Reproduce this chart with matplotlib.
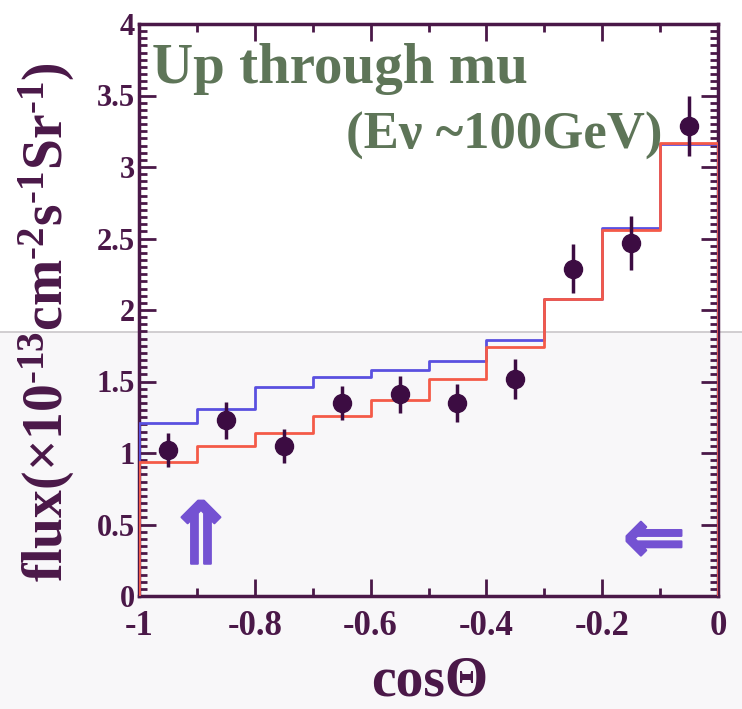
import numpy as np
import matplotlib
matplotlib.use("Agg")
import matplotlib.pyplot as plt
from matplotlib.ticker import MultipleLocator
from matplotlib.patches import Rectangle
from matplotlib.lines import Line2D
import matplotlib.patheffects as pe

# ---- data ----
bin_edges = [-1.0, -0.9, -0.8, -0.7, -0.6, -0.5, -0.4, -0.3, -0.2, -0.1, 0.0]
data_x = [-0.95, -0.85, -0.75, -0.65, -0.55, -0.45, -0.35, -0.25, -0.15, -0.05]
data_y = [1.02, 1.23, 1.05, 1.35, 1.41, 1.35, 1.52, 2.29, 2.47, 3.29]
data_err = [0.12, 0.13, 0.12, 0.12, 0.13, 0.13, 0.14, 0.17, 0.19, 0.21]
blue_mc = [1.21, 1.31, 1.46, 1.53, 1.58, 1.64, 1.79, 2.08, 2.57, 3.16]
red_mc = [0.94, 1.05, 1.14, 1.26, 1.37, 1.52, 1.74, 2.08, 2.56, 3.17]
x_ticks = [-1, -0.8, -0.6, -0.4, -0.2, 0]
x_ticklabels = ["-1", "-0.8", "-0.6", "-0.4", "-0.2", "0"]
y_ticks = [0, 0.5, 1, 1.5, 2, 2.5, 3, 3.5, 4]
y_ticklabels = ["0", "0.5", "1", "1.5", "2", "2.5", "3", "3.5", "4"]

plt.rcParams['font.family'] = ['Liberation Serif', 'DejaVu Serif']
plt.rcParams['mathtext.fontset'] = 'custom'
plt.rcParams['mathtext.rm'] = 'Liberation Serif:bold'
plt.rcParams['mathtext.bf'] = 'Liberation Serif:bold'
plt.rcParams['mathtext.it'] = 'Liberation Serif:bold'

frame_c = '#4a1848'
pt_c = '#3c0c42'
green_c = '#5e7558'
blue_c = '#5a50e0'
red_c = '#f45a48'
arrow_c = '#7452d2'

fig = plt.figure(figsize=(7.42, 7.09), dpi=100)
fig.patch.set_facecolor('white')
# scanned-paper tint on the lower half
fig.add_artist(Rectangle((0, 0), 1, 1 - 332/709, transform=fig.transFigure,
                         facecolor='#f8f7f9', edgecolor='none', zorder=-10))
fig.add_artist(Line2D([0, 1], [1 - 332/709]*2, transform=fig.transFigure,
                      color='#cac6ca', lw=1.2, zorder=-9))

ax = fig.add_axes([139/742, 1 - 596/709, (718 - 139)/742, (596 - 24)/709])
ax.set_facecolor('none')

def hist_path(edges, vals):
    xs = [edges[0]]
    ys = [0]
    for i, v in enumerate(vals):
        xs += [edges[i], edges[i+1]]
        ys += [v, v]
    xs.append(edges[-1])
    ys.append(0)
    return xs, ys

bx, by = hist_path(bin_edges, blue_mc)
rx, ry = hist_path(bin_edges, red_mc)
ax.plot(bx, by, color=blue_c, lw=2.0, zorder=3)
ax.plot(rx, ry, color=red_c, lw=2.0, zorder=4)

ax.errorbar(data_x, data_y, yerr=data_err, fmt='o', color=pt_c, ms=13,
            elinewidth=2.5, capsize=0, zorder=5)

ax.set_xlim(-1, 0)
ax.set_ylim(0, 4)
ax.set_xticks(x_ticks)
ax.set_xticklabels(x_ticklabels)
ax.set_yticks(y_ticks)
ax.set_yticklabels(y_ticklabels)
ax.xaxis.set_minor_locator(MultipleLocator(0.1))
ax.yaxis.set_minor_locator(MultipleLocator(0.05))
ax.tick_params(which='both', direction='in', top=True, right=True, color=frame_c,
               width=2, labelcolor=frame_c)
ax.tick_params(which='major', length=12)
ax.tick_params(which='minor', length=6)
ax.tick_params(axis='x', pad=10, labelsize=25)
ax.tick_params(axis='y', pad=3, labelsize=22)
for lab in ax.get_xticklabels() + ax.get_yticklabels():
    lab.set_fontweight('bold')
for s in ax.spines.values():
    s.set_color(frame_c)
    s.set_linewidth(2.5)

fig.text(430/742, 1 - 682/709, 'cosΘ', fontsize=40, fontweight='bold', color=frame_c,
         ha='center', va='center')
fig.text(47/742, 1 - 322/709,
         r'flux($\times$10$^{\text{-}13}$cm$^{\text{-}2}$s$^{\text{-}1}$Sr$^{\text{-}1}$)',
         fontsize=40, fontweight='bold', color=frame_c, rotation=90,
         ha='center', va='center')

ax.text(-0.978, 3.59, 'Up through mu', fontsize=41, fontweight='bold', color=green_c,
        ha='left', va='baseline', zorder=6)
ax.text(-0.095, 3.13, '(Eν ~100GeV)', fontsize=38, fontweight='bold', color=green_c,
        ha='right', va='baseline', zorder=6)

stroke = [pe.withStroke(linewidth=1.5, foreground=arrow_c)]
ax.text(-0.893, 0.39, '⇑', fontsize=62, fontweight='bold', color=arrow_c,
        ha='center', va='center', family='DejaVu Sans', zorder=6, path_effects=stroke)
ax.text(-0.11, 0.38, '⇐', fontsize=54, fontweight='bold', color=arrow_c,
        ha='center', va='center', family='DejaVu Sans', zorder=6, path_effects=stroke)

fig.savefig('out.png', dpi=100)
